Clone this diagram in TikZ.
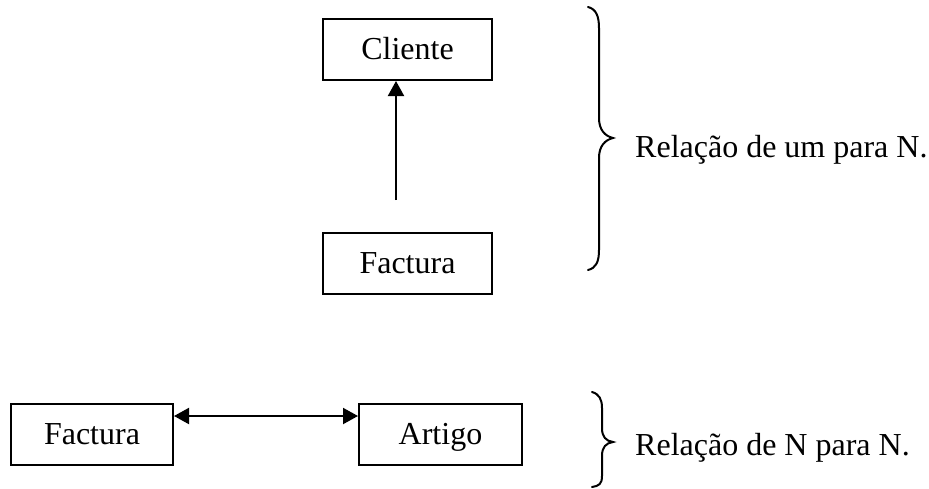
\documentclass[tikz,border=0pt]{standalone}
\usepackage{fontspec}
\setmainfont{Liberation Serif}
\usetikzlibrary{arrows.meta}
\begin{document}
\begin{tikzpicture}[x=1pt,y=-1pt,
  box/.style={draw,line width=2pt,inner sep=0pt,minimum height=61pt,text height=21pt,text depth=1pt,font=\fontsize{32}{38}\selectfont},
  lbl/.style={anchor=base west,inner sep=0pt,font=\fontsize{32}{38}\selectfont},
  conn/.style={line width=2pt},
  brc/.style={line width=2pt,line cap=round}]
\useasboundingbox (0,0) rectangle (929,488);
% top relation
\node[box,minimum width=169pt] (cl) at (407.5,49.5) {Cliente};
\node[box,minimum width=169pt] (f1) at (407.5,263) {Factura};
\coordinate (a0) at (396,200);
\draw[conn,-{Triangle[length=15pt,width=16pt]}] (a0) -- (a0 |- cl.south);
\draw[brc] (588,7) .. controls (596,9) and (599,16) .. (599,28) -- (599,118)
  .. controls (599,130) and (605,136) .. (613,138)
  .. controls (605,140) and (599,146) .. (599,158) -- (599,250)
  .. controls (599,262) and (596,268) .. (588,270);
\node[lbl] (t1) at (635,157) {Relação de um para N.};
% bottom relation
\node[box,minimum width=162pt] (f2) at (92,434.5) {Factura};
\node[box,minimum width=163pt] (ar) at (440.5,434.5) {Artigo};
\draw[conn,{Triangle[length=15pt,width=16pt]}-{Triangle[length=15pt,width=16pt]}]
  ([yshift=-13pt]f2.north east) -- ([yshift=-13pt]ar.north west);
\draw[brc] (592,392) .. controls (599,394) and (602,399) .. (602,408) -- (602,428)
  .. controls (602,437) and (606,441) .. (613,442)
  .. controls (606,443) and (602,447) .. (602,456) -- (602,476)
  .. controls (602,484) and (599,486) .. (592,487);
\node[lbl] (t2) at (635,455) {Relação de N para N.};
\end{tikzpicture}
\end{document}
